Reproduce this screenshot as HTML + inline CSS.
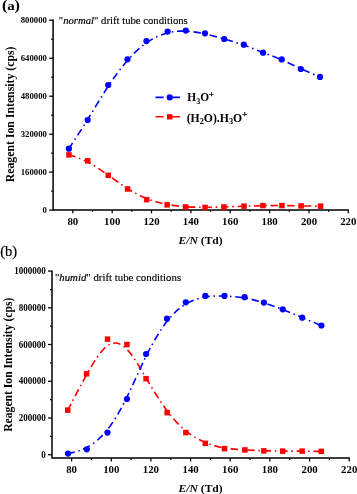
<!DOCTYPE html>
<html><head><meta charset="utf-8"><title>Figure</title>
<style>
html,body{margin:0;padding:0;background:#fff;}
svg{display:block;font-family:"Liberation Serif",serif;}
</style></head><body>
<svg width="357" height="494" viewBox="0 0 357 494">
<rect width="357" height="494" fill="#fff"/>
<g stroke="#000" stroke-width="1.5" fill="none">
<path d="M53.1,19.6 V209.9 H348.9"/>
</g><g stroke="#000" stroke-width="1.25" fill="none">
<path d="M72.8,209.9 v3.4"/>
<path d="M92.5,209.9 v1.9"/>
<path d="M112.2,209.9 v3.4"/>
<path d="M131.8,209.9 v1.9"/>
<path d="M151.5,209.9 v3.4"/>
<path d="M171.2,209.9 v1.9"/>
<path d="M190.9,209.9 v3.4"/>
<path d="M210.6,209.9 v1.9"/>
<path d="M230.2,209.9 v3.4"/>
<path d="M249.9,209.9 v1.9"/>
<path d="M269.6,209.9 v3.4"/>
<path d="M289.3,209.9 v1.9"/>
<path d="M309.0,209.9 v3.4"/>
<path d="M328.6,209.9 v1.9"/>
<path d="M348.3,209.9 v3.4"/>
<path d="M53.1,210.1 h-4"/>
<path d="M53.1,191.1 h-1.9"/>
<path d="M53.1,172.1 h-4"/>
<path d="M53.1,153.1 h-1.9"/>
<path d="M53.1,134.2 h-4"/>
<path d="M53.1,115.2 h-1.9"/>
<path d="M53.1,96.2 h-4"/>
<path d="M53.1,77.2 h-1.9"/>
<path d="M53.1,58.2 h-4"/>
<path d="M53.1,39.2 h-1.9"/>
<path d="M53.1,20.2 h-4"/>
</g>
<g font-weight="bold" font-size="8.9" text-anchor="end">
<text x="46.9" y="212.7" textLength="4.4" lengthAdjust="spacingAndGlyphs">0</text>
<text x="46.9" y="174.7" textLength="26.2" lengthAdjust="spacingAndGlyphs">160000</text>
<text x="46.9" y="136.8" textLength="26.2" lengthAdjust="spacingAndGlyphs">320000</text>
<text x="46.9" y="98.8" textLength="26.2" lengthAdjust="spacingAndGlyphs">480000</text>
<text x="46.9" y="60.8" textLength="26.2" lengthAdjust="spacingAndGlyphs">640000</text>
<text x="46.9" y="22.9" textLength="26.2" lengthAdjust="spacingAndGlyphs">800000</text>
</g>
<g font-weight="bold" font-size="10.8" text-anchor="middle">
<text x="72.8" y="224.8" textLength="10.8" lengthAdjust="spacingAndGlyphs">80</text>
<text x="112.2" y="224.8" textLength="16.2" lengthAdjust="spacingAndGlyphs">100</text>
<text x="151.5" y="224.8" textLength="16.2" lengthAdjust="spacingAndGlyphs">120</text>
<text x="190.9" y="224.8" textLength="16.2" lengthAdjust="spacingAndGlyphs">140</text>
<text x="230.2" y="224.8" textLength="16.2" lengthAdjust="spacingAndGlyphs">160</text>
<text x="269.6" y="224.8" textLength="16.2" lengthAdjust="spacingAndGlyphs">180</text>
<text x="309.0" y="224.8" textLength="16.2" lengthAdjust="spacingAndGlyphs">200</text>
<text x="348.3" y="224.8" textLength="16.2" lengthAdjust="spacingAndGlyphs">220</text>
</g>
<path d="M68.90,154.80 C68.90,154.80 68.90,154.80 72.05,155.80 C75.20,156.80 81.50,158.80 88.07,162.22 C94.63,165.63 101.47,170.47 108.10,175.17 C114.73,179.87 121.17,184.43 127.57,188.50 C133.97,192.57 140.33,196.13 146.93,198.77 C153.53,201.40 160.37,203.10 166.87,204.32 C173.37,205.53 179.53,206.27 185.85,206.70 C192.17,207.13 198.63,207.27 205.02,207.27 C211.40,207.27 217.70,207.13 224.20,206.93 C230.70,206.73 237.40,206.47 243.90,206.23 C250.40,206.00 256.70,205.80 263.02,205.68 C269.33,205.57 275.67,205.53 282.03,205.58 C288.40,205.63 294.80,205.77 301.22,205.88 C307.63,206.00 314.07,206.10 317.28,206.15 C320.50,206.20 320.50,206.20 320.50,206.20" fill="none" stroke="#ff0000" stroke-width="1.6" stroke-dasharray="7.5 3.75 1.55 3.75" stroke-dashoffset="0.55"/>
<rect x="66.2" y="152.1" width="5.5" height="5.5" fill="#ff0000"/>
<rect x="85.0" y="158.1" width="5.5" height="5.5" fill="#ff0000"/>
<rect x="105.5" y="172.6" width="5.5" height="5.5" fill="#ff0000"/>
<rect x="124.8" y="186.2" width="5.5" height="5.5" fill="#ff0000"/>
<rect x="143.9" y="196.9" width="5.5" height="5.5" fill="#ff0000"/>
<rect x="164.4" y="202.1" width="5.5" height="5.5" fill="#ff0000"/>
<rect x="182.9" y="204.2" width="5.5" height="5.5" fill="#ff0000"/>
<rect x="202.3" y="204.7" width="5.5" height="5.5" fill="#ff0000"/>
<rect x="221.2" y="204.2" width="5.5" height="5.5" fill="#ff0000"/>
<rect x="241.3" y="203.4" width="5.5" height="5.5" fill="#ff0000"/>
<rect x="260.2" y="202.8" width="5.5" height="5.5" fill="#ff0000"/>
<rect x="279.2" y="202.8" width="5.5" height="5.5" fill="#ff0000"/>
<rect x="298.4" y="203.2" width="5.5" height="5.5" fill="#ff0000"/>
<rect x="317.8" y="203.4" width="5.5" height="5.5" fill="#ff0000"/>
<path d="M68.90,148.70 C68.90,148.70 68.90,148.70 72.03,143.92 C75.17,139.13 81.43,129.57 87.98,118.95 C94.53,108.33 101.37,96.67 108.00,86.55 C114.63,76.43 121.07,67.87 127.43,60.55 C133.80,53.23 140.10,47.17 146.78,42.55 C153.47,37.93 160.53,34.77 167.10,33.02 C173.67,31.27 179.73,30.93 185.97,31.22 C192.20,31.50 198.60,32.40 205.00,33.80 C211.40,35.20 217.80,37.10 224.27,39.00 C230.73,40.90 237.27,42.80 243.75,45.08 C250.23,47.37 256.67,50.03 262.98,52.48 C269.30,54.93 275.50,57.17 281.78,59.88 C288.07,62.60 294.43,65.80 300.82,68.72 C307.20,71.63 313.60,74.27 316.80,75.58 C320.00,76.90 320.00,76.90 320.00,76.90" fill="none" stroke="#0000ff" stroke-width="1.6" stroke-dasharray="7.5 3.75 1.55 3.75" stroke-dashoffset="0.55"/>
<circle cx="68.9" cy="148.7" r="3.1" fill="#0000ff"/>
<circle cx="87.7" cy="120.0" r="3.1" fill="#0000ff"/>
<circle cx="108.2" cy="85.0" r="3.1" fill="#0000ff"/>
<circle cx="127.5" cy="59.3" r="3.1" fill="#0000ff"/>
<circle cx="146.4" cy="41.1" r="3.1" fill="#0000ff"/>
<circle cx="167.6" cy="31.6" r="3.1" fill="#0000ff"/>
<circle cx="185.8" cy="30.6" r="3.1" fill="#0000ff"/>
<circle cx="205.0" cy="33.3" r="3.1" fill="#0000ff"/>
<circle cx="224.2" cy="39.0" r="3.1" fill="#0000ff"/>
<circle cx="243.8" cy="44.7" r="3.1" fill="#0000ff"/>
<circle cx="263.1" cy="52.7" r="3.1" fill="#0000ff"/>
<circle cx="281.7" cy="59.4" r="3.1" fill="#0000ff"/>
<circle cx="300.8" cy="69.0" r="3.1" fill="#0000ff"/>
<circle cx="320.0" cy="76.9" r="3.1" fill="#0000ff"/>
<g stroke="#000" stroke-width="1.5" fill="none">
<path d="M52.0,270.5 V458.1 H349.8"/>
</g><g stroke="#000" stroke-width="1.25" fill="none">
<path d="M71.6,458.1 v3.4"/>
<path d="M91.4,458.1 v1.9"/>
<path d="M111.3,458.1 v3.4"/>
<path d="M131.1,458.1 v1.9"/>
<path d="M150.9,458.1 v3.4"/>
<path d="M170.8,458.1 v1.9"/>
<path d="M190.6,458.1 v3.4"/>
<path d="M210.4,458.1 v1.9"/>
<path d="M230.2,458.1 v3.4"/>
<path d="M250.1,458.1 v1.9"/>
<path d="M269.9,458.1 v3.4"/>
<path d="M289.7,458.1 v1.9"/>
<path d="M309.6,458.1 v3.4"/>
<path d="M329.4,458.1 v1.9"/>
<path d="M349.2,458.1 v3.4"/>
<path d="M52.0,454.7 h-4"/>
<path d="M52.0,436.3 h-1.9"/>
<path d="M52.0,418.0 h-4"/>
<path d="M52.0,399.6 h-1.9"/>
<path d="M52.0,381.3 h-4"/>
<path d="M52.0,362.9 h-1.9"/>
<path d="M52.0,344.5 h-4"/>
<path d="M52.0,326.2 h-1.9"/>
<path d="M52.0,307.8 h-4"/>
<path d="M52.0,289.5 h-1.9"/>
<path d="M52.0,271.1 h-4"/>
</g>
<g font-weight="bold" font-size="9.7" text-anchor="end">
<text x="45.8" y="457.6" textLength="4.5" lengthAdjust="spacingAndGlyphs">0</text>
<text x="45.8" y="420.9" textLength="27.1" lengthAdjust="spacingAndGlyphs">200000</text>
<text x="45.8" y="384.2" textLength="27.1" lengthAdjust="spacingAndGlyphs">400000</text>
<text x="45.8" y="347.5" textLength="27.1" lengthAdjust="spacingAndGlyphs">600000</text>
<text x="45.8" y="310.8" textLength="27.1" lengthAdjust="spacingAndGlyphs">800000</text>
<text x="45.8" y="274.1" textLength="31.6" lengthAdjust="spacingAndGlyphs">1000000</text>
</g>
<g font-weight="bold" font-size="10.8" text-anchor="middle">
<text x="71.6" y="473.0" textLength="10.8" lengthAdjust="spacingAndGlyphs">80</text>
<text x="111.3" y="473.0" textLength="16.2" lengthAdjust="spacingAndGlyphs">100</text>
<text x="150.9" y="473.0" textLength="16.2" lengthAdjust="spacingAndGlyphs">120</text>
<text x="190.6" y="473.0" textLength="16.2" lengthAdjust="spacingAndGlyphs">140</text>
<text x="230.2" y="473.0" textLength="16.2" lengthAdjust="spacingAndGlyphs">160</text>
<text x="269.9" y="473.0" textLength="16.2" lengthAdjust="spacingAndGlyphs">180</text>
<text x="309.6" y="473.0" textLength="16.2" lengthAdjust="spacingAndGlyphs">200</text>
<text x="349.2" y="473.0" textLength="16.2" lengthAdjust="spacingAndGlyphs">220</text>
</g>
<path d="M67.80,410.10 C67.80,410.10 67.80,410.10 70.93,404.05 C74.07,398.00 80.33,385.90 86.95,374.08 C93.57,362.27 100.53,350.73 107.27,345.85 C114.00,340.97 120.50,342.73 126.93,349.30 C133.37,355.87 139.73,367.23 146.43,378.60 C153.13,389.97 160.17,401.33 166.78,410.32 C173.40,419.30 179.60,425.90 185.95,431.00 C192.30,436.10 198.80,439.70 205.25,442.40 C211.70,445.10 218.10,446.90 224.68,448.02 C231.27,449.13 238.03,449.57 244.60,449.92 C251.17,450.27 257.53,450.53 263.85,450.72 C270.17,450.90 276.43,451.00 282.82,451.05 C289.20,451.10 295.70,451.10 302.15,451.15 C308.60,451.20 315.00,451.30 318.20,451.35 C321.40,451.40 321.40,451.40 321.40,451.40" fill="none" stroke="#ff0000" stroke-width="1.6" stroke-dasharray="7.5 3.75 1.55 3.75" stroke-dashoffset="0.55"/>
<rect x="65.0" y="407.4" width="5.5" height="5.5" fill="#ff0000"/>
<rect x="83.8" y="371.1" width="5.5" height="5.5" fill="#ff0000"/>
<rect x="104.8" y="336.4" width="5.5" height="5.5" fill="#ff0000"/>
<rect x="124.2" y="341.8" width="5.5" height="5.5" fill="#ff0000"/>
<rect x="143.3" y="375.9" width="5.5" height="5.5" fill="#ff0000"/>
<rect x="164.4" y="409.9" width="5.5" height="5.5" fill="#ff0000"/>
<rect x="183.1" y="429.8" width="5.5" height="5.5" fill="#ff0000"/>
<rect x="202.6" y="440.6" width="5.5" height="5.5" fill="#ff0000"/>
<rect x="221.8" y="445.9" width="5.5" height="5.5" fill="#ff0000"/>
<rect x="242.1" y="447.2" width="5.5" height="5.5" fill="#ff0000"/>
<rect x="261.1" y="448.1" width="5.5" height="5.5" fill="#ff0000"/>
<rect x="279.9" y="448.4" width="5.5" height="5.5" fill="#ff0000"/>
<rect x="299.4" y="448.4" width="5.5" height="5.5" fill="#ff0000"/>
<rect x="318.6" y="448.6" width="5.5" height="5.5" fill="#ff0000"/>
<path d="M68.00,453.60 C68.00,453.60 68.00,453.60 71.13,452.88 C74.27,452.17 80.53,450.73 87.12,447.23 C93.70,443.73 100.60,438.17 107.30,429.78 C114.00,421.40 120.50,410.20 126.93,397.10 C133.37,384.00 139.73,369.00 146.40,355.62 C153.07,342.23 160.03,330.47 166.65,321.85 C173.27,313.23 179.53,307.77 185.92,303.97 C192.30,300.17 198.80,298.03 205.25,296.97 C211.70,295.90 218.10,295.90 224.65,296.12 C231.20,296.33 237.90,296.77 244.47,297.88 C251.03,299.00 257.47,300.80 263.82,302.82 C270.17,304.83 276.43,307.07 282.82,309.58 C289.20,312.10 295.70,314.90 302.15,317.60 C308.60,320.30 315.00,322.90 318.20,324.20 C321.40,325.50 321.40,325.50 321.40,325.50" fill="none" stroke="#0000ff" stroke-width="1.6" stroke-dasharray="7.5 3.75 1.55 3.75" stroke-dashoffset="0.55"/>
<circle cx="68.0" cy="453.6" r="3.1" fill="#0000ff"/>
<circle cx="86.8" cy="449.3" r="3.1" fill="#0000ff"/>
<circle cx="107.5" cy="432.6" r="3.1" fill="#0000ff"/>
<circle cx="127.0" cy="399.0" r="3.1" fill="#0000ff"/>
<circle cx="146.1" cy="354.0" r="3.1" fill="#0000ff"/>
<circle cx="167.0" cy="318.7" r="3.1" fill="#0000ff"/>
<circle cx="185.8" cy="302.3" r="3.1" fill="#0000ff"/>
<circle cx="205.3" cy="295.9" r="3.1" fill="#0000ff"/>
<circle cx="224.5" cy="295.9" r="3.1" fill="#0000ff"/>
<circle cx="244.6" cy="297.2" r="3.1" fill="#0000ff"/>
<circle cx="263.9" cy="302.6" r="3.1" fill="#0000ff"/>
<circle cx="282.7" cy="309.3" r="3.1" fill="#0000ff"/>
<circle cx="302.2" cy="317.7" r="3.1" fill="#0000ff"/>
<circle cx="321.4" cy="325.5" r="3.1" fill="#0000ff"/>
<g font-weight="bold"><text transform="translate(2.0,10.0) scale(1.1,1)" font-size="14.8">(</text><text transform="translate(7.3,9.5) scale(1.3,1)" font-size="11.5">a</text><text transform="translate(14.5,10.0) scale(1.1,1)" font-size="14.8">)</text></g>
<text transform="translate(0.2,256.2) scale(0.95,1)" font-size="15.4" stroke="#000" stroke-width="0.2">(b)</text>
<text x="58.8" y="24.1" font-size="10.6" textLength="129.0" lengthAdjust="spacingAndGlyphs" stroke="#000" stroke-width="0.15">"<tspan font-style="italic" stroke-width="0.2">normal</tspan>" drift tube conditions</text>
<text x="54.9" y="281.3" font-size="10.6" textLength="126.2" lengthAdjust="spacingAndGlyphs" stroke="#000" stroke-width="0.15">"<tspan font-style="italic" stroke-width="0.2">humid</tspan>" drift tube conditions</text>
<text transform="translate(13.6,182.3) rotate(-90)" font-size="11.8" font-weight="bold" textLength="135.8" lengthAdjust="spacingAndGlyphs">Reagent Ion Intensity (cps)</text>
<text transform="translate(11.8,431.8) rotate(-90)" font-size="11.8" font-weight="bold" textLength="134.2" lengthAdjust="spacingAndGlyphs">Reagent Ion Intensity (cps)</text>
<text x="178.5" y="243.5" font-size="11.4" font-weight="bold" textLength="44.2" lengthAdjust="spacingAndGlyphs" ><tspan font-style="italic">E/N</tspan> (Td)</text>
<text x="178.5" y="491.5" font-size="11.4" font-weight="bold" textLength="44.2" lengthAdjust="spacingAndGlyphs" ><tspan font-style="italic">E/N</tspan> (Td)</text>
<path d="M155.5,97.4 H163.7 M172,97.4 H179.9" stroke="#0000ff" stroke-width="1.6"/>
<circle cx="169.7" cy="97.4" r="3.05" fill="#0000ff"/>
<path d="M155.5,116.8 H163.7 M172,116.8 H179.9" stroke="#ff0000" stroke-width="1.6"/>
<rect x="167.0" y="114.1" width="5.4" height="5.4" fill="#ff0000"/>
<text x="187.3" y="101.0" font-size="12" font-weight="bold" textLength="26.6" lengthAdjust="spacingAndGlyphs">H<tspan font-size="8.5" dy="2.6">3</tspan><tspan dy="-2.6">O</tspan><tspan font-size="9" dy="-4.4" stroke="#000" stroke-width="0.3">+</tspan></text>
<text x="186.7" y="121.8" font-size="12" font-weight="bold" textLength="60.5" lengthAdjust="spacingAndGlyphs">(H<tspan font-size="8.5" dy="2.6">2</tspan><tspan dy="-2.6">O).H</tspan><tspan font-size="8.5" dy="2.6">3</tspan><tspan dy="-2.6">O</tspan><tspan font-size="9" dy="-4.4" stroke="#000" stroke-width="0.3">+</tspan></text>
</svg>
</body></html>
